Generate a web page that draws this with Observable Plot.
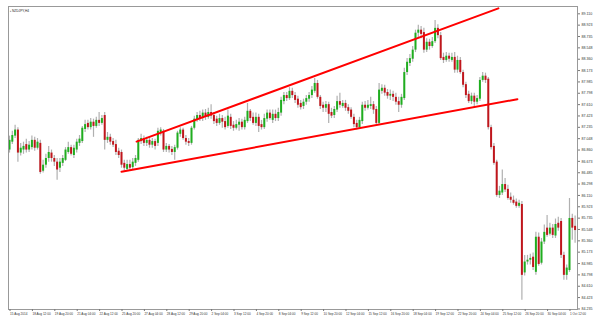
<!DOCTYPE html>
<html><head><meta charset="utf-8">
<script src="https://cdn.jsdelivr.net/npm/d3@7"></script>
<script src="https://cdn.jsdelivr.net/npm/@observablehq/plot@0.6"></script>
<style>
body{margin:0;background:#fff;}
#chart svg{display:block;font-family:"Liberation Sans",Arial,sans-serif;}
</style>
</head><body><div id="chart"></div>
<script>
const title = "NZDJPY,H4";

const open = [86.86,86.99,87.09,87.19,86.81,86.86,86.95,86.86,86.90,87.02,86.89,86.97,86.51,86.61,86.72,86.81,86.72,86.66,86.56,86.64,
86.69,86.82,86.90,86.77,86.86,86.97,87.00,87.20,87.30,87.23,87.32,87.25,87.35,87.30,87.43,87.02,87.07,87.00,86.95,86.84,
86.82,86.64,86.54,86.62,86.57,86.64,86.69,87.00,87.05,86.97,87.02,86.94,87.00,86.97,87.15,87.17,86.86,86.92,86.87,86.82,
86.89,87.12,87.19,87.05,87.00,86.97,87.22,87.35,87.43,87.38,87.47,87.40,87.48,87.43,87.37,87.30,87.38,87.33,87.25,87.40,
87.27,87.22,87.27,87.32,87.23,87.33,87.50,87.40,87.30,87.40,87.28,87.23,87.37,87.47,87.35,87.45,87.38,87.47,87.66,87.76,
87.71,87.83,87.76,87.70,87.63,87.58,87.65,87.70,87.76,87.83,87.96,87.73,87.60,87.55,87.61,87.48,87.43,87.52,87.66,87.58,
87.63,87.56,87.52,87.40,87.30,87.23,87.33,87.60,87.55,87.58,87.61,87.53,87.30,87.83,87.88,87.81,87.75,87.78,87.73,87.66,
87.60,87.71,88.14,88.29,88.36,88.51,88.79,88.84,88.80,88.51,88.64,88.57,88.65,88.87,88.75,88.39,88.34,88.41,88.34,88.39,
88.18,88.34,88.14,87.94,87.78,87.66,87.75,87.65,87.70,88.01,88.08,88.03,87.23,86.92,86.66,86.11,86.15,86.29,86.21,86.08,
86.03,86.00,85.93,85.96,84.83,85.01,85.04,85.09,84.84,85.42,84.99,85.34,85.57,85.47,85.57,85.44,85.65,85.68,85.12,84.79,
84.87,85.73,85.60];
const high = [87.09,87.17,87.27,87.23,86.97,86.99,87.04,87.00,87.09,87.07,87.05,87.02,86.69,86.79,86.92,86.86,86.77,86.72,86.72,86.77,
86.90,86.99,86.94,86.94,87.04,87.10,87.25,87.35,87.35,87.38,87.37,87.40,87.48,87.43,87.48,87.15,87.12,87.05,87.02,86.89,
86.86,86.69,86.69,86.69,86.72,86.77,87.05,87.12,87.09,87.07,87.07,87.05,87.04,87.22,87.23,87.20,86.97,86.95,86.92,86.94,
87.17,87.23,87.22,87.10,87.05,87.25,87.42,87.48,87.50,87.52,87.53,87.55,87.61,87.48,87.42,87.45,87.43,87.40,87.52,87.45,
87.33,87.35,87.38,87.37,87.40,87.63,87.53,87.47,87.47,87.45,87.35,87.45,87.52,87.52,87.52,87.52,87.55,87.73,87.81,87.81,
87.89,87.88,87.81,87.75,87.68,87.70,87.76,87.81,87.91,88.04,88.01,87.76,87.65,87.66,87.65,87.55,87.58,87.75,87.80,87.68,
87.68,87.61,87.56,87.45,87.35,87.40,87.65,87.66,87.68,87.73,87.66,87.58,87.96,87.94,87.93,87.86,87.85,87.83,87.80,87.73,
87.78,88.21,88.37,88.44,88.57,88.84,88.92,88.90,88.87,88.70,88.69,88.72,89.00,88.93,88.80,88.46,88.47,88.46,88.46,88.47,
88.41,88.39,88.18,87.98,87.83,87.80,87.80,87.76,88.06,88.14,88.13,88.06,87.27,86.97,86.69,86.26,86.53,86.39,86.28,86.15,
86.10,86.05,86.03,86.01,85.12,85.12,85.14,85.16,85.50,85.49,85.40,85.62,85.78,85.65,85.63,85.72,85.75,85.73,85.17,84.96,
86.06,85.80,85.77];
const low = [86.81,86.95,87.05,86.66,86.76,86.79,86.81,86.82,86.86,86.84,86.86,86.46,86.48,86.56,86.66,86.66,86.59,86.36,86.49,86.59,
86.67,86.79,86.76,86.72,86.81,86.92,86.97,87.15,87.19,87.19,87.07,87.22,87.25,87.27,86.86,86.97,86.94,86.90,86.77,86.72,
86.56,86.51,86.51,86.51,86.53,86.59,86.66,86.95,86.92,86.92,86.89,86.89,86.86,86.92,87.09,86.82,86.82,86.81,86.77,86.69,
86.86,87.07,87.02,86.94,86.92,86.94,87.19,87.32,87.33,87.33,87.35,87.37,87.37,87.28,87.25,87.27,87.22,87.19,87.22,87.20,
87.17,87.19,87.17,87.19,87.19,87.30,87.33,87.27,87.25,87.15,87.19,87.20,87.32,87.35,87.30,87.33,87.33,87.42,87.61,87.66,
87.68,87.71,87.63,87.55,87.52,87.53,87.60,87.65,87.71,87.80,87.70,87.53,87.48,87.48,87.30,87.38,87.38,87.48,87.55,87.55,
87.50,87.45,87.37,87.23,87.19,87.20,87.28,87.50,87.52,87.53,87.45,87.27,87.27,87.78,87.75,87.70,87.68,87.66,87.60,87.48,
87.55,87.68,88.09,88.24,88.31,88.47,88.72,88.70,88.46,88.47,88.51,88.54,88.62,88.70,88.34,88.29,88.31,88.31,88.31,88.13,
88.13,88.11,87.89,87.71,87.63,87.61,87.56,87.61,87.66,87.98,87.96,87.19,86.86,86.61,86.08,86.06,86.11,86.16,86.03,85.98,
85.95,85.90,85.90,84.38,84.78,84.96,84.96,84.87,84.79,84.94,84.96,85.30,85.42,85.44,85.40,85.40,85.52,85.07,84.71,84.71,
84.84,85.37,85.32];
const close = [87.02,87.10,87.19,86.81,86.89,86.92,86.86,86.94,87.02,86.89,86.99,86.49,86.61,86.72,86.82,86.72,86.66,86.53,86.66,86.72,
86.86,86.90,86.79,86.89,86.99,87.04,87.22,87.28,87.23,87.32,87.25,87.35,87.30,87.38,87.02,87.07,86.99,86.94,86.82,86.77,
86.61,86.56,86.62,86.56,86.66,86.72,87.02,87.05,86.97,87.02,86.94,87.00,86.92,87.17,87.19,86.86,86.92,86.86,86.82,86.90,
87.14,87.19,87.05,86.99,86.97,87.22,87.37,87.43,87.38,87.47,87.40,87.48,87.42,87.33,87.30,87.38,87.32,87.23,87.42,87.25,
87.22,87.28,87.32,87.23,87.35,87.50,87.38,87.30,87.40,87.25,87.23,87.38,87.47,87.38,87.45,87.38,87.48,87.68,87.76,87.71,
87.83,87.76,87.68,87.60,87.56,87.65,87.71,87.76,87.85,87.96,87.73,87.58,87.55,87.61,87.45,87.42,87.53,87.66,87.60,87.63,
87.55,87.50,87.40,87.28,87.23,87.35,87.60,87.55,87.60,87.61,87.52,87.30,87.85,87.88,87.80,87.75,87.78,87.73,87.65,87.60,
87.73,88.14,88.31,88.37,88.51,88.79,88.84,88.77,88.51,88.64,88.57,88.65,88.87,88.75,88.37,88.34,88.41,88.36,88.39,88.18,
88.34,88.14,87.93,87.76,87.66,87.75,87.65,87.71,88.01,88.08,88.01,87.23,86.90,86.64,86.11,86.18,86.29,86.20,86.06,86.03,
85.98,85.93,85.98,84.79,85.01,85.04,85.07,84.92,85.42,84.97,85.34,85.50,85.45,85.57,85.45,85.63,85.57,85.12,84.79,84.91,
85.73,85.57,85.53];

const xTickBars = [0,8,16,24,32,40,48,56,64,72,80,88,96,104,112,120,128,136,144,152,160,168,176,184,192,200];
const xTickLabels = ["15 Aug 2014","18 Aug 12:00","19 Aug 20:00","21 Aug 04:00","22 Aug 12:00","25 Aug 20:00","27 Aug 04:00","28 Aug 12:00","29 Aug 20:00","2 Sep 04:00","3 Sep 12:00","4 Sep 20:00","8 Sep 04:00","9 Sep 12:00","10 Sep 20:00","12 Sep 04:00","15 Sep 12:00","16 Sep 20:00","18 Sep 04:00","19 Sep 12:00","22 Sep 20:00","24 Sep 04:00","25 Sep 12:00","26 Sep 20:00","30 Sep 04:00","1 Oct 12:00"];
const yTickValues = [89.110,88.923,88.735,88.548,88.360,88.173,87.985,87.798,87.610,87.423,87.235,87.048,86.860,86.673,86.485,86.298,86.110,85.923,85.735,85.548,85.360,85.173,84.985,84.798,84.610,84.423,84.235];

// trend lines (bar position, price)
const upperLineBar = [45.4, 174.6];
const upperLinePrice = [87.00, 89.20];
const lowerLineBar = [40.0, 181.4];
const lowerLinePrice = [86.50, 87.70];

const bars = close.map((c, i) => ({i, o: open[i], h: high[i], l: low[i], c}));
const upperLine = upperLineBar.map((b, k) => ({b, p: upperLinePrice[k]}));
const lowerLine = lowerLineBar.map((b, k) => ({b, p: lowerLinePrice[k]}));

const GREEN = "#1fae1f", RED = "#c0161c", WICK = "#b0b0b0";

const chart = Plot.plot({
  width: 600,
  height: 323,
  marginLeft: 8,
  marginRight: 23,
  marginTop: 6,
  marginBottom: 14,
  style: {fontFamily: "'Liberation Sans', Arial, sans-serif", background: "#fff"},
  x: {type: "linear", domain: [-0.36, 202.86]},
  y: {type: "linear", domain: [84.226, 89.231]},
  marks: [
    Plot.ruleX(bars, {x: "i", y1: "l", y2: "h", stroke: WICK, strokeWidth: 1.2}),
    Plot.ruleX(bars, {x: "i", y1: "o", y2: d => (Math.abs(d.c - d.o) < 0.005 ? d.o + 0.01 : d.c),
      stroke: d => d.c >= d.o ? GREEN : RED, strokeWidth: 2}),
    Plot.line(upperLine, {x: "b", y: "p", stroke: "#ff0000", strokeWidth: 2}),
    Plot.line(lowerLine, {x: "b", y: "p", stroke: "#ff0000", strokeWidth: 2}),
    Plot.frame({stroke: "#999", strokeWidth: 1}),
    Plot.axisY({anchor: "right", ticks: yTickValues, tickFormat: d3.format(".3f"),
      tickSize: 2, tickPadding: 2, fontSize: 3.6, stroke: "#777", fill: "#333"}),
    Plot.axisX({anchor: "bottom", ticks: xTickBars,
      tickFormat: d => xTickLabels[xTickBars.indexOf(d)],
      tickSize: 2, tickPadding: 1, textAnchor: "start", dx: 0.5, fontSize: 3.1, stroke: "#777", fill: "#333"}),
    Plot.text([title], {frameAnchor: "top-left", text: d => "\u25AA " + d, dx: 1.5, dy: 3, fontSize: 3.2, fill: "#222", textAnchor: "start"})
  ]
});
document.getElementById("chart").appendChild(chart);
</script>
</body></html>
